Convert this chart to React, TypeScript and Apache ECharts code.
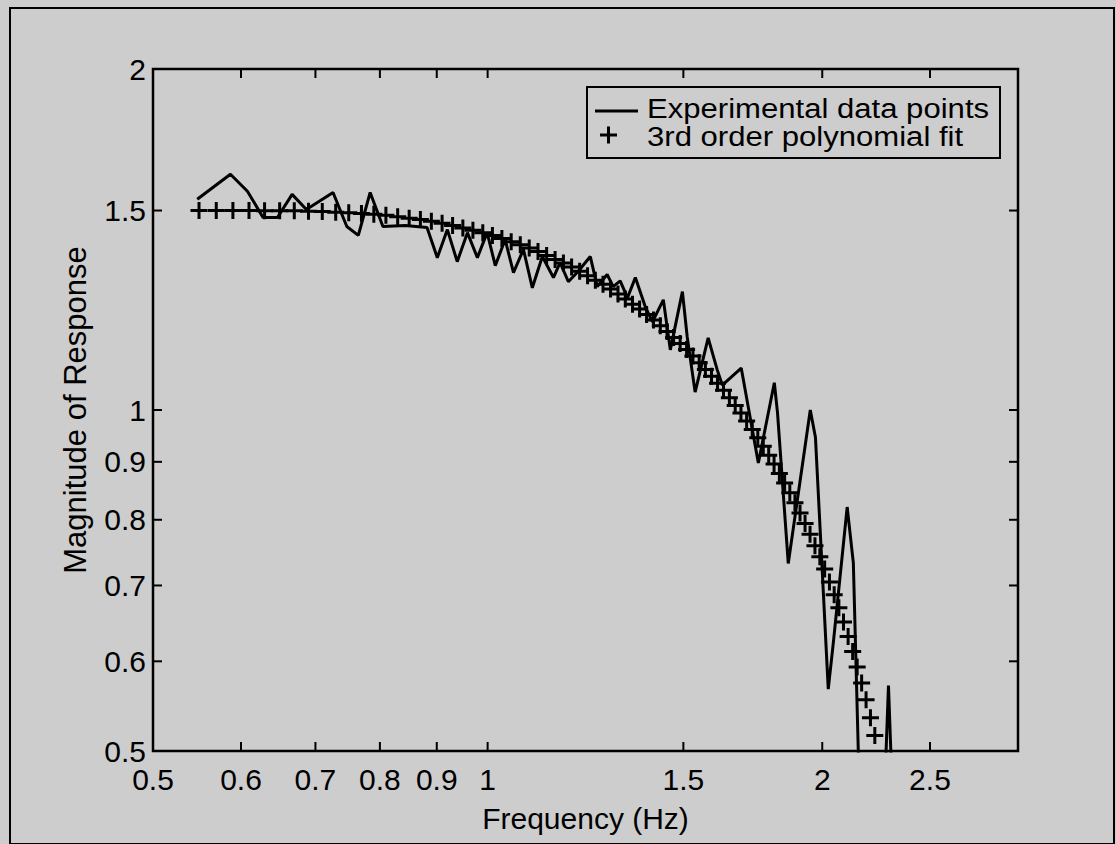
import React, { useEffect, useRef } from 'react';
import * as echarts from 'echarts';

const xTickValues = [0.5, 0.6, 0.7, 0.8, 0.9, 1, 1.5, 2, 2.5];
const xTickLabels = ['0.5', '0.6', '0.7', '0.8', '0.9', '1', '1.5', '2', '2.5'];
const yTickValues = [0.5, 0.6, 0.7, 0.8, 0.9, 1, 1.5, 2];
const yTickLabels = ['0.5', '0.6', '0.7', '0.8', '0.9', '1', '1.5', '2'];

const fitFreq = [
  0.55, 0.57, 0.59, 0.61, 0.63, 0.65, 0.67, 0.69, 0.71, 0.73,
  0.75, 0.77, 0.79, 0.81, 0.83, 0.85, 0.87, 0.89, 0.91, 0.93,
  0.95, 0.97, 0.99, 1.01, 1.03, 1.05, 1.07, 1.09, 1.11, 1.13,
  1.15, 1.17, 1.19, 1.21, 1.23, 1.25, 1.27, 1.29, 1.31, 1.33,
  1.35, 1.37, 1.39, 1.41, 1.43, 1.45, 1.47, 1.49, 1.51, 1.53,
  1.55, 1.57, 1.59, 1.61, 1.63, 1.65, 1.67, 1.69, 1.71, 1.73,
  1.75, 1.77, 1.79, 1.81, 1.83, 1.85, 1.87, 1.89, 1.91, 1.93,
  1.95, 1.97, 1.99, 2.01, 2.03, 2.05, 2.07, 2.09, 2.11, 2.13,
  2.15, 2.17, 2.19, 2.21, 2.23,
];
const fitMag = [
  1.500, 1.500, 1.500, 1.500, 1.499, 1.499, 1.499, 1.498, 1.497, 1.495,
  1.493, 1.491, 1.489, 1.486, 1.481, 1.477, 1.473, 1.468, 1.462, 1.455,
  1.448, 1.441, 1.434, 1.426, 1.417, 1.408, 1.399, 1.390, 1.380, 1.369,
  1.358, 1.348, 1.337, 1.326, 1.314, 1.302, 1.291, 1.279, 1.266, 1.253,
  1.240, 1.228, 1.214, 1.201, 1.187, 1.173, 1.159, 1.145, 1.131, 1.116,
  1.101, 1.086, 1.071, 1.056, 1.041, 1.025, 1.009, 0.994, 0.978, 0.961,
  0.945, 0.929, 0.912, 0.896, 0.879, 0.862, 0.845, 0.828, 0.811, 0.794,
  0.777, 0.759, 0.742, 0.724, 0.705, 0.687, 0.669, 0.650, 0.631, 0.612,
  0.593, 0.574, 0.555, 0.535, 0.516,
];

const expFreq = [
  0.548, 0.587, 0.608, 0.628, 0.647, 0.667, 0.687, 0.726, 0.747, 0.765,
  0.784, 0.805, 0.843, 0.882, 0.901, 0.920, 0.939, 0.959, 0.979, 0.999,
  1.016, 1.037, 1.055, 1.077, 1.097, 1.120, 1.146, 1.162, 1.182, 1.206,
  1.237, 1.255, 1.281, 1.297, 1.316, 1.336, 1.358, 1.386, 1.407, 1.439,
  1.460, 1.497, 1.512, 1.537, 1.579, 1.609, 1.626, 1.691, 1.752, 1.811,
  1.823, 1.864, 1.951, 1.972, 2.025, 2.046, 2.106, 2.133, 2.170, 2.220,
  2.270, 2.294, 2.320,
];
const expMag = [
  1.535, 1.615, 1.560, 1.479, 1.479, 1.550, 1.503, 1.556, 1.452, 1.426,
  1.556, 1.452, 1.455, 1.449, 1.363, 1.443, 1.352, 1.434, 1.363, 1.434,
  1.341, 1.414, 1.322, 1.386, 1.282, 1.366, 1.309, 1.349, 1.298, 1.325,
  1.366, 1.285, 1.317, 1.285, 1.300, 1.256, 1.309, 1.234, 1.196, 1.251,
  1.130, 1.272, 1.160, 1.037, 1.158, 1.085, 1.052, 1.089, 0.898, 1.057,
  0.994, 0.732, 1.000, 0.946, 0.567, 0.622, 0.821, 0.733, 0.386, 0.400,
  0.430, 0.571, 0.420,
];

const FONT = '"Liberation Sans", Arial, Helvetica, sans-serif';
const BG = '#cdcdcd';
const PLUS = 'path://M7,0H10V7H17V10H10V17H7V10H0V7H7Z';

export default function App() {
  const ref = useRef<HTMLDivElement>(null);

  useEffect(() => {
    if (!ref.current) return;
    const chart = echarts.init(ref.current, undefined, { renderer: 'svg' });
    const tickLen = 9;

    const option: any = {
      animation: false,
      backgroundColor: BG,
      grid: {
        left: 153,
        top: 69,
        width: 865,
        height: 682,
        show: true,
        borderColor: '#000',
        borderWidth: 2.5,
        backgroundColor: 'transparent',
      },
      xAxis: {
        type: 'log',
        logBase: 10,
        min: 0.5,
        max: 3,
        name: 'Frequency (Hz)',
        nameLocation: 'middle',
        nameGap: 52,
        nameTextStyle: { fontSize: 30, fontFamily: FONT, color: '#000' },
        axisLine: { show: false },
        axisTick: { show: false },
        axisLabel: { show: false },
        splitLine: { show: false },
      },
      yAxis: {
        type: 'log',
        logBase: 10,
        min: 0.5,
        max: 2,
        name: 'Magnitude of Response',
        nameLocation: 'middle',
        nameGap: 62,
        nameTextStyle: { fontSize: 31, fontFamily: FONT, color: '#000' },
        axisLine: { show: false },
        axisTick: { show: false },
        axisLabel: { show: false },
        splitLine: { show: false },
      },
      graphic: [
        {
          type: 'rect',
          left: 9,
          top: 7,
          shape: { width: 1104, height: 836 },
          style: { fill: 'transparent', stroke: '#000', lineWidth: 2 },
          silent: true,
        },
        {
          type: 'rect',
          shape: { x: 587, y: 87, width: 413, height: 71 },
          style: { fill: BG, stroke: '#000', lineWidth: 2 },
          z: 10,
        },
        {
          type: 'line',
          shape: { x1: 595, y1: 111, x2: 638, y2: 111 },
          style: { stroke: '#000', lineWidth: 3 },
          z: 11,
        },
        {
          type: 'rect',
          shape: { x: 600, y: 133.5, width: 17, height: 3 },
          style: { fill: '#000' },
          z: 11,
        },
        {
          type: 'rect',
          shape: { x: 607, y: 126.5, width: 3, height: 17 },
          style: { fill: '#000' },
          z: 11,
        },
        {
          type: 'text',
          x: 647,
          y: 108,
          scaleX: 1.11,
          style: {
            text: 'Experimental data points',
            fontSize: 28,
            fontFamily: FONT,
            fill: '#000',
            verticalAlign: 'middle',
          },
          z: 11,
        },
        {
          type: 'text',
          x: 647,
          y: 136,
          scaleX: 1.11,
          style: {
            text: '3rd order polynomial fit',
            fontSize: 28,
            fontFamily: FONT,
            fill: '#000',
            verticalAlign: 'middle',
          },
          z: 11,
        },
      ],
      series: [
        {
          name: 'Experimental data points',
          type: 'line',
          data: expFreq.map((f, i) => [f, expMag[i]]),
          showSymbol: false,
          symbol: 'none',
          clip: true,
          lineStyle: { color: '#000', width: 3 },
          itemStyle: { color: '#000' },
          z: 3,
        },
        {
          name: '3rd order polynomial fit',
          type: 'scatter',
          data: fitFreq.map((f, i) => [f, fitMag[i]]),
          symbol: PLUS,
          symbolSize: 17,
          itemStyle: { color: '#000', opacity: 1 },
          z: 4,
        },
        {
          type: 'custom',
          coordinateSystem: 'cartesian2d',
          clip: false,
          silent: true,
          data: xTickValues.map((v) => [v, 1]),
          renderItem: (params: any, api: any) => {
            const cs = params.coordSys;
            const x = api.coord([api.value(0), 1])[0];
            const top = cs.y;
            const bottom = cs.y + cs.height;
            return {
              type: 'group',
              children: [
                { type: 'line', shape: { x1: x, y1: bottom, x2: x, y2: bottom - tickLen }, style: { stroke: '#000', lineWidth: 2 } },
                { type: 'line', shape: { x1: x, y1: top, x2: x, y2: top + tickLen }, style: { stroke: '#000', lineWidth: 2 } },
                {
                  type: 'text',
                  x,
                  y: bottom + 28,
                  style: {
                    text: xTickLabels[params.dataIndex],
                    fontSize: 30,
                    fontFamily: FONT,
                    fill: '#000',
                    align: 'center',
                    verticalAlign: 'middle',
                  },
                },
              ],
            };
          },
          z: 5,
        },
        {
          type: 'custom',
          coordinateSystem: 'cartesian2d',
          clip: false,
          silent: true,
          data: yTickValues.map((v) => [1, v]),
          renderItem: (params: any, api: any) => {
            const cs = params.coordSys;
            const y = api.coord([1, api.value(1)])[1];
            const left = cs.x;
            const right = cs.x + cs.width;
            return {
              type: 'group',
              children: [
                { type: 'line', shape: { x1: left, y1: y, x2: left + tickLen, y2: y }, style: { stroke: '#000', lineWidth: 2 } },
                { type: 'line', shape: { x1: right, y1: y, x2: right - tickLen, y2: y }, style: { stroke: '#000', lineWidth: 2 } },
                {
                  type: 'text',
                  x: left - 7,
                  y,
                  style: {
                    text: yTickLabels[params.dataIndex],
                    fontSize: 30,
                    fontFamily: FONT,
                    fill: '#000',
                    align: 'right',
                    verticalAlign: 'middle',
                  },
                },
              ],
            };
          },
          z: 5,
        },
      ],
    };

    chart.setOption(option);
    return () => chart.dispose();
  }, []);

  return (
    <div
      ref={ref}
      style={{ position: 'fixed', left: 0, top: 0, width: 1116, height: 844 }}
    />
  );
}
